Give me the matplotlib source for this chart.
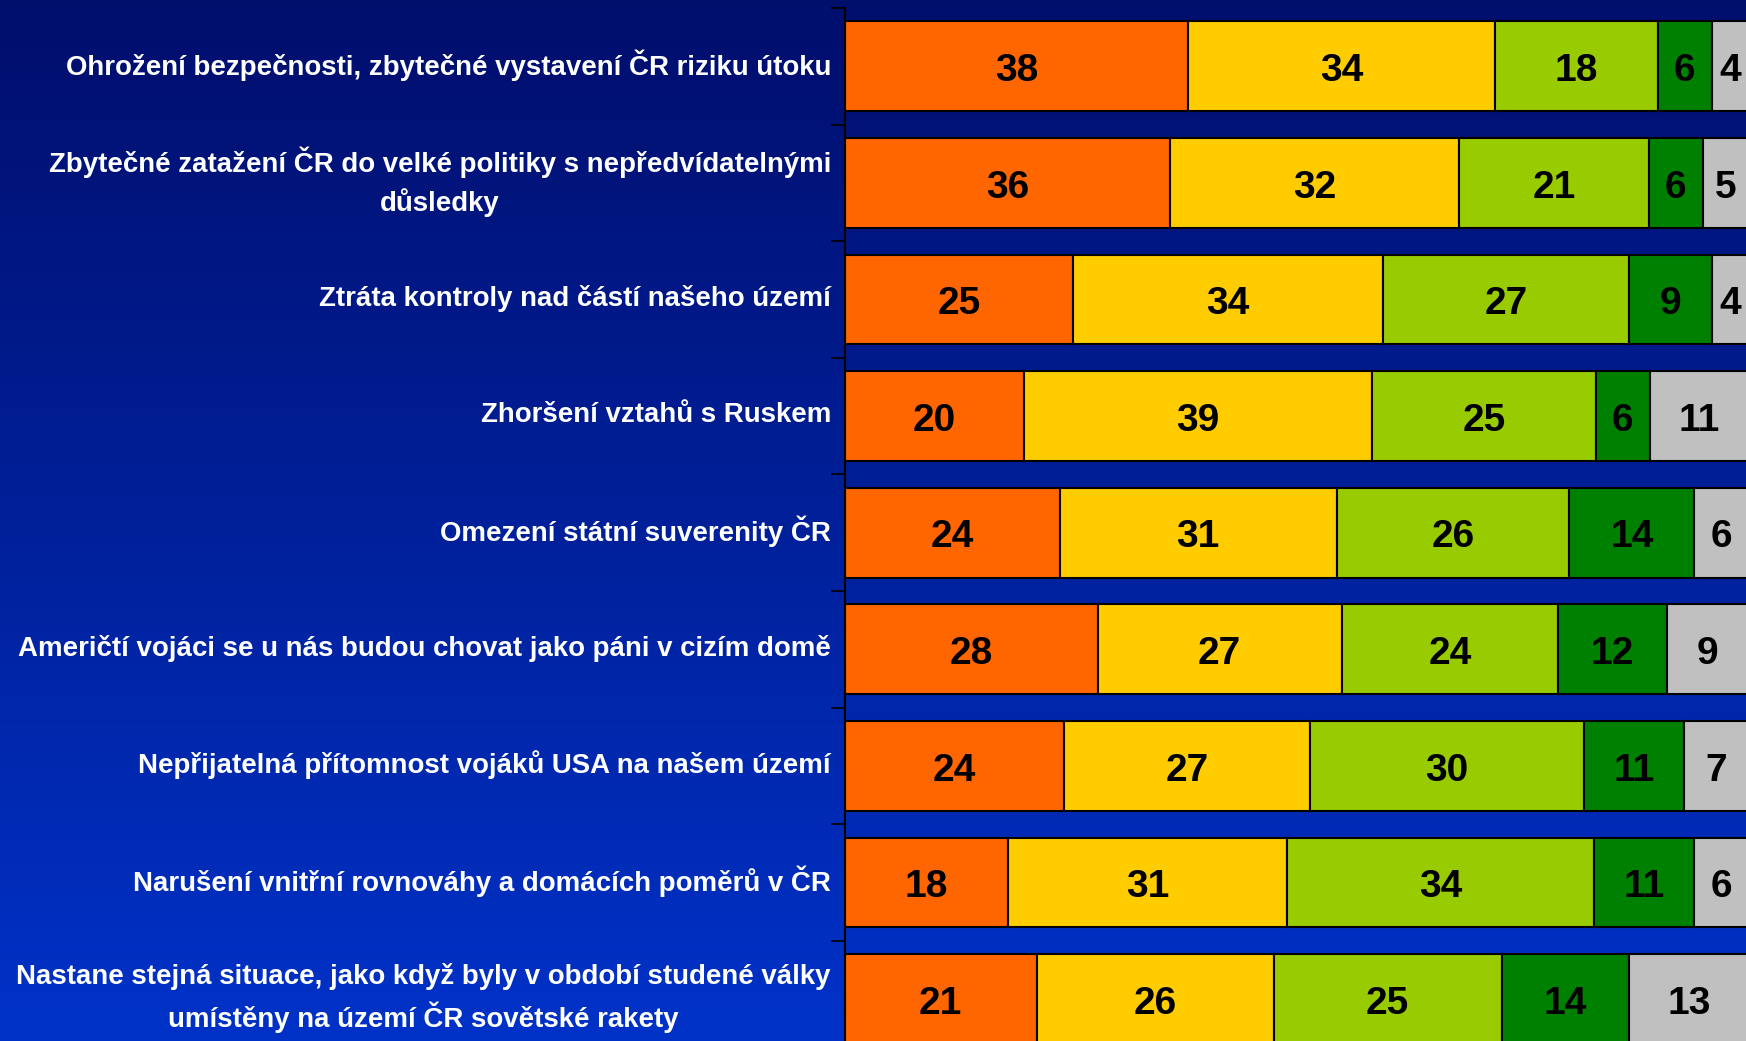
#!/usr/bin/env python3
"""Stacked horizontal bars: perceived risks of a US base in the Czech Republic."""

import numpy as np
import matplotlib
matplotlib.use('Agg')
import matplotlib.pyplot as plt
from matplotlib.colors import LinearSegmentedColormap

plt.rcParams['font.family'] = ['Liberation Sans', 'DejaVu Sans']

categories = [
    'Ohrožení bezpečnosti, zbytečné vystavení ČR riziku útoku',
    'Zbytečné zatažení ČR do velké politiky s nepředvídatelnými\ndůsledky',
    'Ztráta kontroly nad částí našeho území',
    'Zhoršení vztahů s Ruskem',
    'Omezení státní suverenity ČR',
    'Američtí vojáci se u nás budou chovat jako páni v cizím domě',
    'Nepřijatelná přítomnost vojáků USA na našem území',
    'Narušení vnitřní rovnováhy a domácích poměrů v ČR',
    'Nastane stejná situace, jako když byly v období studené války\numístěny na území ČR sovětské rakety',
]
rozhodne_ano = [38, 36, 25, 20, 24, 28, 24, 18, 21]
spise_ano = [34, 32, 34, 39, 31, 27, 27, 31, 26]
spise_ne = [18, 21, 27, 25, 26, 24, 30, 34, 25]
rozhodne_ne = [6, 6, 9, 6, 14, 12, 11, 11, 14]
nevi = [4, 5, 4, 11, 6, 9, 7, 6, 13]

series = [rozhodne_ano, spise_ano, spise_ne, rozhodne_ne, nevi]
colors = ['#FF6600', '#FFCC00', '#99CC00', '#008000', '#C0C0C0']

W, H = 1746, 1041
fig = plt.figure(figsize=(W / 100, H / 100), dpi=100)

# Background gradient (dark navy at the top, brighter blue at the bottom)
bg = fig.add_axes([0, 0, 1, 1], zorder=0)
cmap = LinearSegmentedColormap.from_list('bg', ['#000E6C', '#0032C8'])
bg.imshow(np.linspace(0, 1, 256).reshape(-1, 1), aspect='auto', cmap=cmap,
          extent=[0, 1, 0, 1], origin='upper')
bg.set_axis_off()

# Main axes: runs a little past the bottom and right edges, like the slide
top_px, pitch = 8, 116.6
ax_h = len(categories) * pitch / H
ax = fig.add_axes([845 / W, 1 - top_px / H - ax_h, 903 / W, ax_h], zorder=1)
ax.patch.set_alpha(0)

# 100 % stacked bars: each row scaled to its total
data = np.array(series, dtype=float)
shares = data / data.sum(axis=0) * 100

y = np.arange(len(categories))
left = np.zeros(len(categories))
for vals, share, col in zip(data, shares, colors):
    ax.barh(y, share, left=left, height=0.77, color=col,
            edgecolor='black', linewidth=1.5)
    for yi, l, s, v in zip(y, left, share, vals):
        ax.text(l + s / 2, yi + 0.04, f'{v:.0f}', ha='center', va='center',
                fontsize=28, fontweight='bold', color='black', clip_on=True)
    left += share

ax.set_xlim(0, 100)
ax.set_ylim(len(categories) - 0.5, -0.5)

for s in ['top', 'right', 'bottom']:
    ax.spines[s].set_visible(False)
ax.spines['left'].set_linewidth(1.5)
ax.spines['left'].set_color('black')
ax.set_xticks([])
ax.set_yticks(np.arange(len(categories) + 1) - 0.5)
ax.set_yticklabels([])
ax.tick_params(axis='y', direction='out', length=10, width=1.2, color='black')

for yi, lab in zip(y, categories):
    ax.text(-14 / 903, yi - 0.01, lab, transform=ax.get_yaxis_transform(),
            ha='right', va='center', multialignment='center',
            fontsize=19.9, fontweight='bold', color='white', linespacing=1.48)

fig.savefig('out.png', dpi=100)
